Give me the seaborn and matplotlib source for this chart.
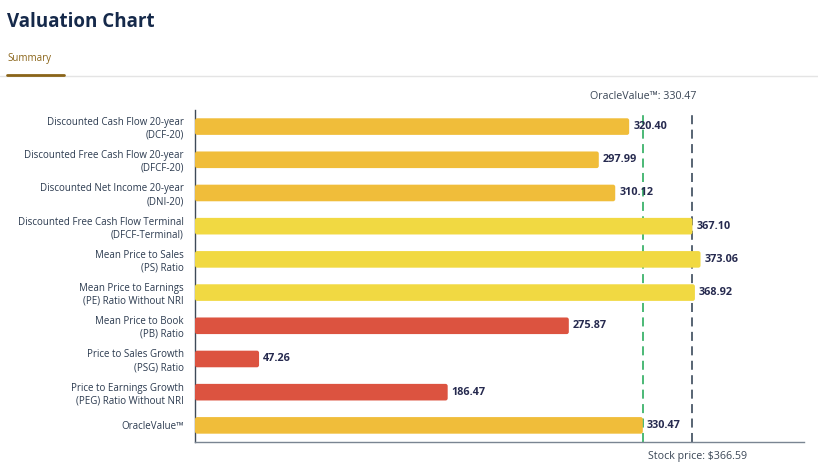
import pandas as pd
import seaborn as sns
import matplotlib.pyplot as plt
from matplotlib.patches import FancyBboxPatch

labels = [
    "Discounted Cash Flow 20-year\n(DCF-20)",
    "Discounted Free Cash Flow 20-year\n(DFCF-20)",
    "Discounted Net Income 20-year\n(DNI-20)",
    "Discounted Free Cash Flow Terminal\n(DFCF-Terminal)",
    "Mean Price to Sales\n(PS) Ratio",
    "Mean Price to Earnings\n(PE) Ratio Without NRI",
    "Mean Price to Book\n(PB) Ratio",
    "Price to Sales Growth\n(PSG) Ratio",
    "Price to Earnings Growth\n(PEG) Ratio Without NRI",
    "OracleValue\u2122",
]
values = [320.40, 297.99, 310.12, 367.10, 373.06, 368.92, 275.87, 47.26, 186.47, 330.47]
groups = ["dcf", "dcf", "dcf", "terminal", "terminal", "terminal", "low", "low", "low", "dcf"]
oracle_value = 330.47
stock_price = 366.59

palette = {"dcf": "#F0BD3A", "terminal": "#F1D942", "low": "#DC5340"}

df = pd.DataFrame({"label": labels, "value": values, "group": groups})

sns.set_style("white")
plt.rcParams['font.family'] = ['Open Sans', 'DejaVu Sans']

fig = plt.figure(figsize=(8.18, 4.72), dpi=100)
ax = fig.add_axes([0.2384, 0.0636, 0.7446, 0.7034])

sns.barplot(data=df, x="value", y="label", hue="group", palette=palette,
            dodge=False, legend=False, width=0.5, ax=ax, saturation=1, zorder=3)

ax.set_xlim(0, 449.5)
ax.set_ylim(9.5, -0.5)

# swap the square bars for slightly rounded ones
for p in list(ax.patches):
    x0, y0 = p.get_x(), p.get_y()
    w, h = p.get_width(), p.get_height()
    if w <= 0:
        continue
    rb = FancyBboxPatch((x0, y0), w, h, boxstyle="round,pad=0,rounding_size=1.6",
                        mutation_aspect=0.041, facecolor=p.get_facecolor(),
                        edgecolor="none", zorder=3)
    p.remove()
    ax.add_patch(rb)

ax.set_xlabel("")
ax.set_ylabel("")
ax.set_xticks([])
ax.tick_params(axis="y", length=0, pad=8, labelsize=7, labelcolor="#2B3A4F")
for t in ax.get_yticklabels():
    t.set_horizontalalignment("right")
    t.set_multialignment("right")

for side in ["top", "right"]:
    ax.spines[side].set_visible(False)
ax.spines["left"].set_color("#3F4A58")
ax.spines["left"].set_linewidth(1)
ax.spines["bottom"].set_color("#7A8592")
ax.spines["bottom"].set_linewidth(1)

for i, v in enumerate(values):
    ax.text(v + 3, i, f"{v:.2f}", va="center", ha="left", fontsize=7.8,
            fontweight="bold", color="#262A4F", zorder=4)

ax.axvline(oracle_value, color="#3DB36B", linestyle=(0, (5, 3)), linewidth=1.3, zorder=1)
ax.axvline(stock_price, color="#4A5868", linestyle=(0, (5, 3)), linewidth=1.3, zorder=1)

ax.text(oracle_value, -0.75, f"OracleValue\u2122: {oracle_value:.2f}", ha="center",
        va="bottom", fontsize=7.7, color="#3A4656")
ax.text(stock_price + 4, 9.95, f"Stock price: ${stock_price:.2f}", ha="center",
        va="center", fontsize=7.7, color="#3A4656")

fig.text(7 / 818, 1 - 22 / 472, "Valuation Chart", fontsize=13.5, fontweight="bold",
         color="#15294A", va="center", ha="left")
fig.text(7 / 818, 1 - 58 / 472, "Summary", fontsize=7, color="#8A6418",
         va="center", ha="left")
fig.add_artist(plt.Line2D([0, 1], [1 - 76 / 472] * 2, color="#E4E4E4", linewidth=1))
fig.add_artist(plt.Line2D([7 / 818, 64 / 818], [1 - 74.5 / 472] * 2,
                          color="#8A6418", linewidth=2))

fig.savefig("out.png", dpi=100)
